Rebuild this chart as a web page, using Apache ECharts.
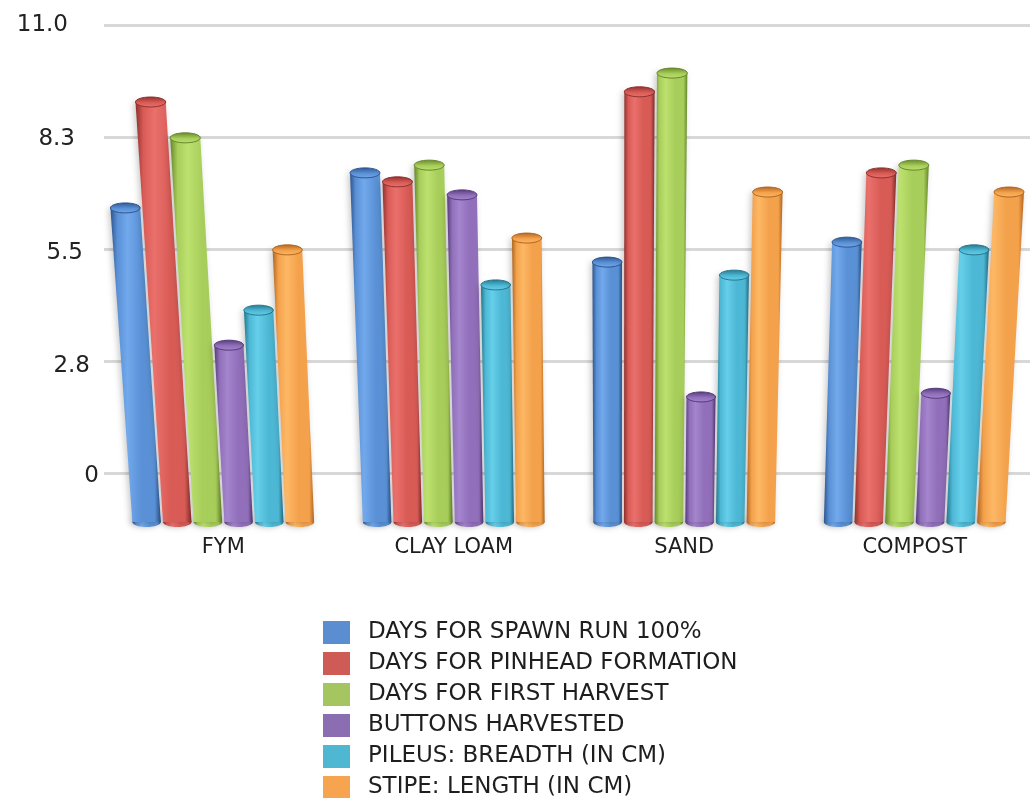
<!DOCTYPE html>
<html>
<head>
<meta charset="utf-8">
<title>Substrate comparison</title>
<script src="https://cdn.jsdelivr.net/npm/echarts@6/dist/echarts.min.js"></script>
<style>
  html, body { margin: 0; padding: 0; background: #ffffff; }
  #chart { width: 1030px; height: 798px; }
</style>
</head>
<body>
<div id="chart"></div>
<script>
// Substrates on the category axis
const categories = ['FYM', 'CLAY LOAM', 'SAND', 'COMPOST'];

// One array per measured parameter, in substrate order
const spawnRun = [6.51, 7.37, 5.18, 5.67];
const pinhead = [9.11, 7.15, 9.36, 7.37];
const firstHarvest = [8.23, 7.56, 9.82, 7.56];
const buttons = [3.14, 6.83, 1.87, 1.96];
const pileusBreadth = [4.00, 4.62, 4.86, 5.48];
const stipeLength = [5.48, 5.77, 6.90, 6.90];

const seriesNames = [
  'DAYS FOR SPAWN RUN 100%',
  'DAYS FOR PINHEAD FORMATION',
  'DAYS FOR FIRST HARVEST',
  'BUTTONS HARVESTED',
  'PILEUS: BREADTH (IN CM)',
  'STIPE: LENGTH (IN CM)'
];
const seriesValues = [spawnRun, pinhead, firstHarvest, buttons, pileusBreadth, stipeLength];

// Value-axis tick labels (0 .. 11 in steps of 2.75)
const yTickLabels = ['0', '2.8', '5.5', '8.3', '11.0'];

// Cylinder palettes: [edge, base, highlight]
const palettes = [
  ['#2d558f', '#5a91d6', '#72a8ec'],
  ['#8e302d', '#d95b56', '#ea706c'],
  ['#66862a', '#a7cd5a', '#bde16e'],
  ['#553a7a', '#916fba', '#a585ce'],
  ['#25768c', '#4db8d5', '#66cfea'],
  ['#b06620', '#f4a14b', '#fdb865']
];
const legendColors = ['#5a8ed1', '#cf5b56', '#a5c560', '#8b6db2', '#4fb7d2', '#f6a450'];

const Y_BASE = -1.2; // floor of the cylinders, in front of the wall

function renderCylinder(params, api) {
  const cs = params.coordSys;
  const idx = params.seriesIndex;
  const pal = palettes[idx];
  const cat = api.value(0);
  const top = api.coord([cat, api.value(1)]);
  const base = api.coord([cat, Y_BASE]);
  const band = api.size([1, 0])[0];
  const slot = band * 0.133;
  const w = slot * 0.93;
  const xc = base[0] + (idx - 2.5) * slot;
  const yb = base[1];
  const yt = top[1];
  // slight perspective: cylinders lean away from a centre line
  const vx = cs.x + cs.width * 0.554;
  const depth = cs.height * 14;
  const r = 1 + (yb - yt) / depth;
  const xt = vx + (xc - vx) * r;
  const wt = w * r;
  const ry = 5;

  const bodyFill = new echarts.graphic.LinearGradient(0, 0, 1, 0, [
    { offset: 0, color: pal[0] },
    { offset: 0.14, color: pal[1] },
    { offset: 0.34, color: pal[2] },
    { offset: 0.62, color: pal[1] },
    { offset: 0.88, color: pal[1] },
    { offset: 1, color: pal[0] }
  ]);
  const topFill = new echarts.graphic.LinearGradient(0, 0, 0, 1, [
    { offset: 0, color: pal[0] },
    { offset: 0.55, color: pal[1] },
    { offset: 1, color: pal[2] }
  ]);

  return {
    type: 'group',
    children: [
      {
        type: 'ellipse',
        shape: { cx: xc, cy: yb, rx: w / 2, ry: ry },
        style: {
          fill: bodyFill,
          shadowBlur: 6,
          shadowColor: 'rgba(0,0,0,0.25)',
          shadowOffsetX: -2
        }
      },
      {
        type: 'polygon',
        shape: {
          points: [
            [xc - w / 2, yb],
            [xc + w / 2, yb],
            [xt + wt / 2, yt],
            [xt - wt / 2, yt]
          ]
        },
        style: {
          fill: bodyFill,
          shadowBlur: 6,
          shadowColor: 'rgba(0,0,0,0.22)',
          shadowOffsetX: -2
        }
      },
      {
        type: 'ellipse',
        shape: { cx: xt, cy: yt, rx: wt / 2, ry: ry },
        style: {
          fill: topFill,
          stroke: pal[0],
          lineWidth: 1
        }
      }
    ]
  };
}

// tick labels step right and down a little towards the floor
const labelPadRight = [1, 10, 17, 25, 32];
const labelPadTop = [6, 10, 8, 4, 0];
const rich = {};
labelPadRight.forEach(function (p, i) {
  rich['t' + i] = {
    fontFamily: 'DejaVu Sans',
    fontSize: 23,
    color: '#222222',
    padding: [labelPadTop[i], p, 0, 0]
  };
});

const chart = echarts.init(document.getElementById('chart'), null, { renderer: 'canvas' });

chart.setOption({
  backgroundColor: '#ffffff',
  animation: false,
  grid: [
    { left: 104, right: 0, top: 25, height: 448 },
    { left: 108, width: 924, top: 25, height: 497 }
  ],
  xAxis: [
    { gridIndex: 0, type: 'value', show: false, min: 0, max: 1 },
    {
      gridIndex: 1,
      type: 'category',
      data: categories,
      axisLine: { show: false },
      axisTick: { show: false },
      splitLine: { show: false },
      axisLabel: {
        margin: 15,
        fontFamily: 'DejaVu Sans',
        fontSize: 21,
        color: '#1e1e1e'
      }
    }
  ],
  yAxis: [
    {
      gridIndex: 0,
      type: 'value',
      min: 0,
      max: 11,
      interval: 2.75,
      axisLine: { show: false },
      axisTick: { show: false },
      splitLine: { lineStyle: { color: '#d8d8d8', width: 3 } },
      axisLabel: {
        margin: 4,
        formatter: function (v) {
          const i = Math.round(v / 2.75);
          return '{t' + i + '|' + yTickLabels[i] + '}';
        },
        rich: rich
      }
    },
    { gridIndex: 1, type: 'value', show: false, min: Y_BASE, max: 11 }
  ],
  legend: {
    orient: 'vertical',
    left: 323,
    top: 621,
    height: 200,
    padding: 0,
    itemWidth: 27,
    itemHeight: 23,
    itemGap: 8,
    icon: 'rect',
    data: seriesNames,
    textStyle: {
      fontFamily: 'DejaVu Sans',
      fontSize: 23,
      lineHeight: 23,
      color: '#1e1e1e',
      padding: [0, 0, 0, 13]
    }
  },
  series: seriesNames.map(function (name, i) {
    return {
      name: name,
      type: 'custom',
      xAxisIndex: 1,
      yAxisIndex: 1,
      renderItem: renderCylinder,
      itemStyle: { color: legendColors[i] },
      encode: { x: 0, y: 1 },
      data: seriesValues[i].map(function (v, c) { return [c, v]; })
    };
  })
});
</script>
</body>
</html>
